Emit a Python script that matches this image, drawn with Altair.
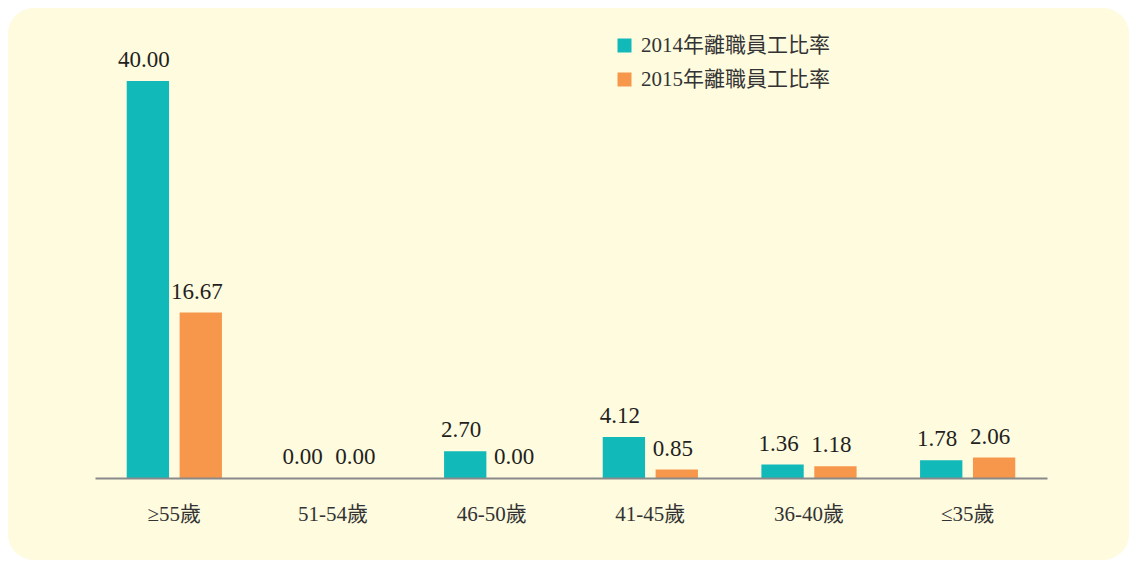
import altair as alt
import pandas as pd

categories = ["≥55歲", "51-54歲", "46-50歲", "41-45歲", "36-40歲", "≤35歲"]
series_names = ["2014年離職員工比率", "2015年離職員工比率"]
values_2014 = [40.00, 0.00, 2.70, 4.12, 1.36, 1.78]
values_2015 = [16.67, 0.00, 0.00, 0.85, 1.18, 2.06]
colors = ["#12B9B9", "#F7974C"]

rows = []
for c, a, b in zip(categories, values_2014, values_2015):
    rows.append({"age": c, "series": series_names[0], "value": a})
    rows.append({"age": c, "series": series_names[1], "value": b})
df = pd.DataFrame(rows)

BG = "#FEFBDF"
SERIF = "Liberation Serif, Noto Sans CJK TC"

x_enc = alt.X("age:N", sort=categories, title=None,
              scale=alt.Scale(paddingInner=0.4, paddingOuter=0.2),
              axis=alt.Axis(labelAngle=0, ticks=False, domainColor="#8A8A8A", domainWidth=2,
                            labelFont=SERIF, labelFontSize=21, labelColor="#333333",
                            labelPadding=25, zindex=1))
xo_enc = alt.XOffset("series:N", sort=series_names, scale=alt.Scale(paddingInner=0.2))
y_enc = alt.Y("value:Q", axis=None, scale=alt.Scale(domain=[0, 40], nice=False, zero=True))

background = alt.Chart(alt.Data(values=[{"k": 1}])).mark_rect(
    cornerRadius=26, color=BG
).encode(
    x=alt.value(-87), x2=alt.value(1034), y=alt.value(-73), y2=alt.value(479)
)

bars = alt.Chart(df).mark_bar().encode(
    x=x_enc,
    xOffset=xo_enc,
    y=y_enc,
    color=alt.Color("series:N", sort=series_names,
                    scale=alt.Scale(domain=series_names, range=colors),
                    legend=alt.Legend(title=None, orient="none", legendX=519, legendY=-46,
                                      symbolType="square", symbolSize=196, symbolStrokeWidth=0,
                                      labelFont=SERIF, labelFontSize=21, labelColor="#333333",
                                      labelLimit=0, rowPadding=12, labelOffset=6, zindex=1)),
)

labels = alt.Chart(df).mark_text(
    font=SERIF, fontSize=23, color="#231F20", baseline="alphabetic", dy=-14, dx=-4
).encode(
    x=x_enc,
    xOffset=xo_enc,
    y=y_enc,
    text=alt.Text("value:Q", format=".2f"),
)

chart = alt.layer(background, bars, labels).properties(
    width=952, height=397,
    padding={"left": 87, "top": 73, "right": 82, "bottom": 82},
    autosize=alt.AutoSizeParams(type="none"),
    background="#FFFFFF",
).configure_view(stroke=None)

chart.save("out.html", embed_options={"renderer": "svg", "actions": False})
